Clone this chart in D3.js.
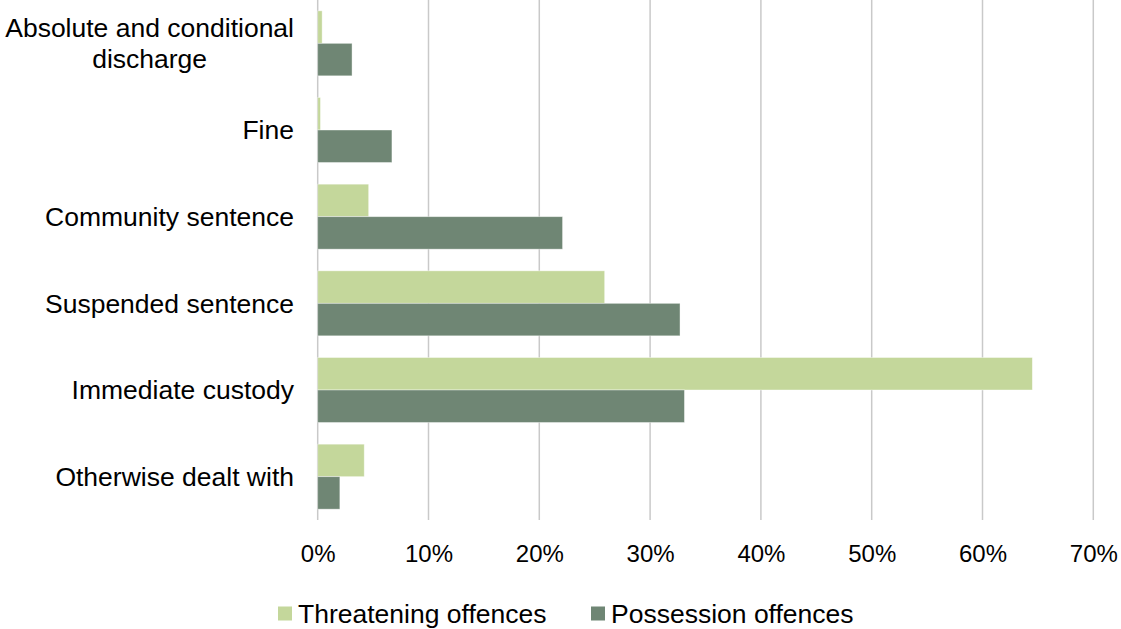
<!DOCTYPE html>
<html>
<head>
<meta charset="utf-8">
<script src="https://cdn.jsdelivr.net/npm/d3@7"></script>
<style>
  html, body { margin: 0; padding: 0; background: #fff; }
  svg { display: block; font-family: "Liberation Sans", Arial, sans-serif; }
</style>
</head>
<body>
<svg id="chart" width="1121" height="629"></svg>
<script>
// Sentence outcomes, share of offenders (%)
const categories = [
  ["Absolute and conditional", "discharge"],
  ["Fine"],
  ["Community sentence"],
  ["Suspended sentence"],
  ["Immediate custody"],
  ["Otherwise dealt with"]
];
const seriesNames = ["Threatening offences", "Possession offences"];
const threatening = [0.4, 0.25, 4.6, 25.9, 64.5, 4.2];
const possession  = [3.1, 6.7, 22.1, 32.7, 33.1, 2.0];
const tickValues = [0, 10, 20, 30, 40, 50, 60, 70];
const colors = ["#c4d79b", "#6f8674"];

const svg = d3.select("#chart");
const catKeys = categories.map(c => c.join(" "));

const x = d3.scaleLinear().domain([0, 70]).range([317.7, 1093.3]);
const y = d3.scaleBand().domain(catKeys).range([0, 520])
  .paddingInner(0.25).paddingOuter(0.125);
const ySub = d3.scaleBand().domain(seriesNames).range([0, y.bandwidth()]);

// vertical gridlines
svg.append("g").selectAll("line").data(tickValues).join("line")
  .attr("x1", d => x(d)).attr("x2", d => x(d))
  .attr("y1", 0).attr("y2", 520)
  .attr("stroke", "#c9c9c9").attr("stroke-width", 1.5);

// bars
const rows = catKeys.map((k, i) => ({ key: k, vals: [threatening[i], possession[i]] }));
const groups = svg.append("g").selectAll("g").data(rows).join("g")
  .attr("transform", d => `translate(0,${y(d.key)})`);
groups.selectAll("rect").data(d => d.vals.map((v, j) => ({ v, s: seriesNames[j], j })))
  .join("rect")
  .attr("x", x(0))
  .attr("y", d => ySub(d.s))
  .attr("width", d => x(d.v) - x(0))
  .attr("height", ySub.bandwidth())
  .attr("fill", d => colors[d.j])
  .attr("stroke", "#ffffff").attr("stroke-opacity", 0.5).attr("stroke-width", 0.8);

// x axis labels
const xAxis = d3.axisBottom(x).tickValues(tickValues)
  .tickFormat(d => d + "%").tickSize(0).tickPadding(0);
const gx = svg.append("g").attr("transform", "translate(0,545)").call(xAxis);
gx.select(".domain").remove();
gx.selectAll("text").attr("font-size", 24).attr("fill", "#000")
  .attr("font-family", "'Liberation Sans', Arial, sans-serif")
  .attr("dy", "0.71em");

// category labels: right-aligned; a wrapped label is centred on its widest line
const labelSize = 26.5;
const lineH = 31;
const rightEdge = 294;
const lab = svg.append("g").selectAll("text").data(categories).join("text")
  .attr("font-size", labelSize)
  .attr("fill", "#000")
  .attr("y", (d, i) => y(catKeys[i]) + y.bandwidth() / 2 - (d.length - 1) * lineH / 2);
lab.selectAll("tspan").data(d => d).join("tspan")
  .attr("dy", (d, i) => i === 0 ? "0.35em" : lineH)
  .text(d => d);
lab.each(function(d) {
  const tspans = d3.select(this).selectAll("tspan");
  if (d.length === 1) {
    tspans.attr("text-anchor", "end").attr("x", rightEdge);
  } else {
    let maxW = 0;
    tspans.each(function() { maxW = Math.max(maxW, this.getComputedTextLength()); });
    tspans.attr("text-anchor", "middle").attr("x", rightEdge - maxW / 2);
  }
});

// legend
const legend = svg.append("g").attr("transform", "translate(0,613.5)");
const legX = [278, 591];
seriesNames.forEach((name, i) => {
  legend.append("rect").attr("x", legX[i]).attr("y", -7).attr("width", 14).attr("height", 14)
    .attr("fill", colors[i]);
  legend.append("text").attr("x", legX[i] + 20).attr("y", 0).attr("dy", "0.35em")
    .attr("font-size", labelSize).attr("fill", "#000").text(name);
});
</script>
</body>
</html>
